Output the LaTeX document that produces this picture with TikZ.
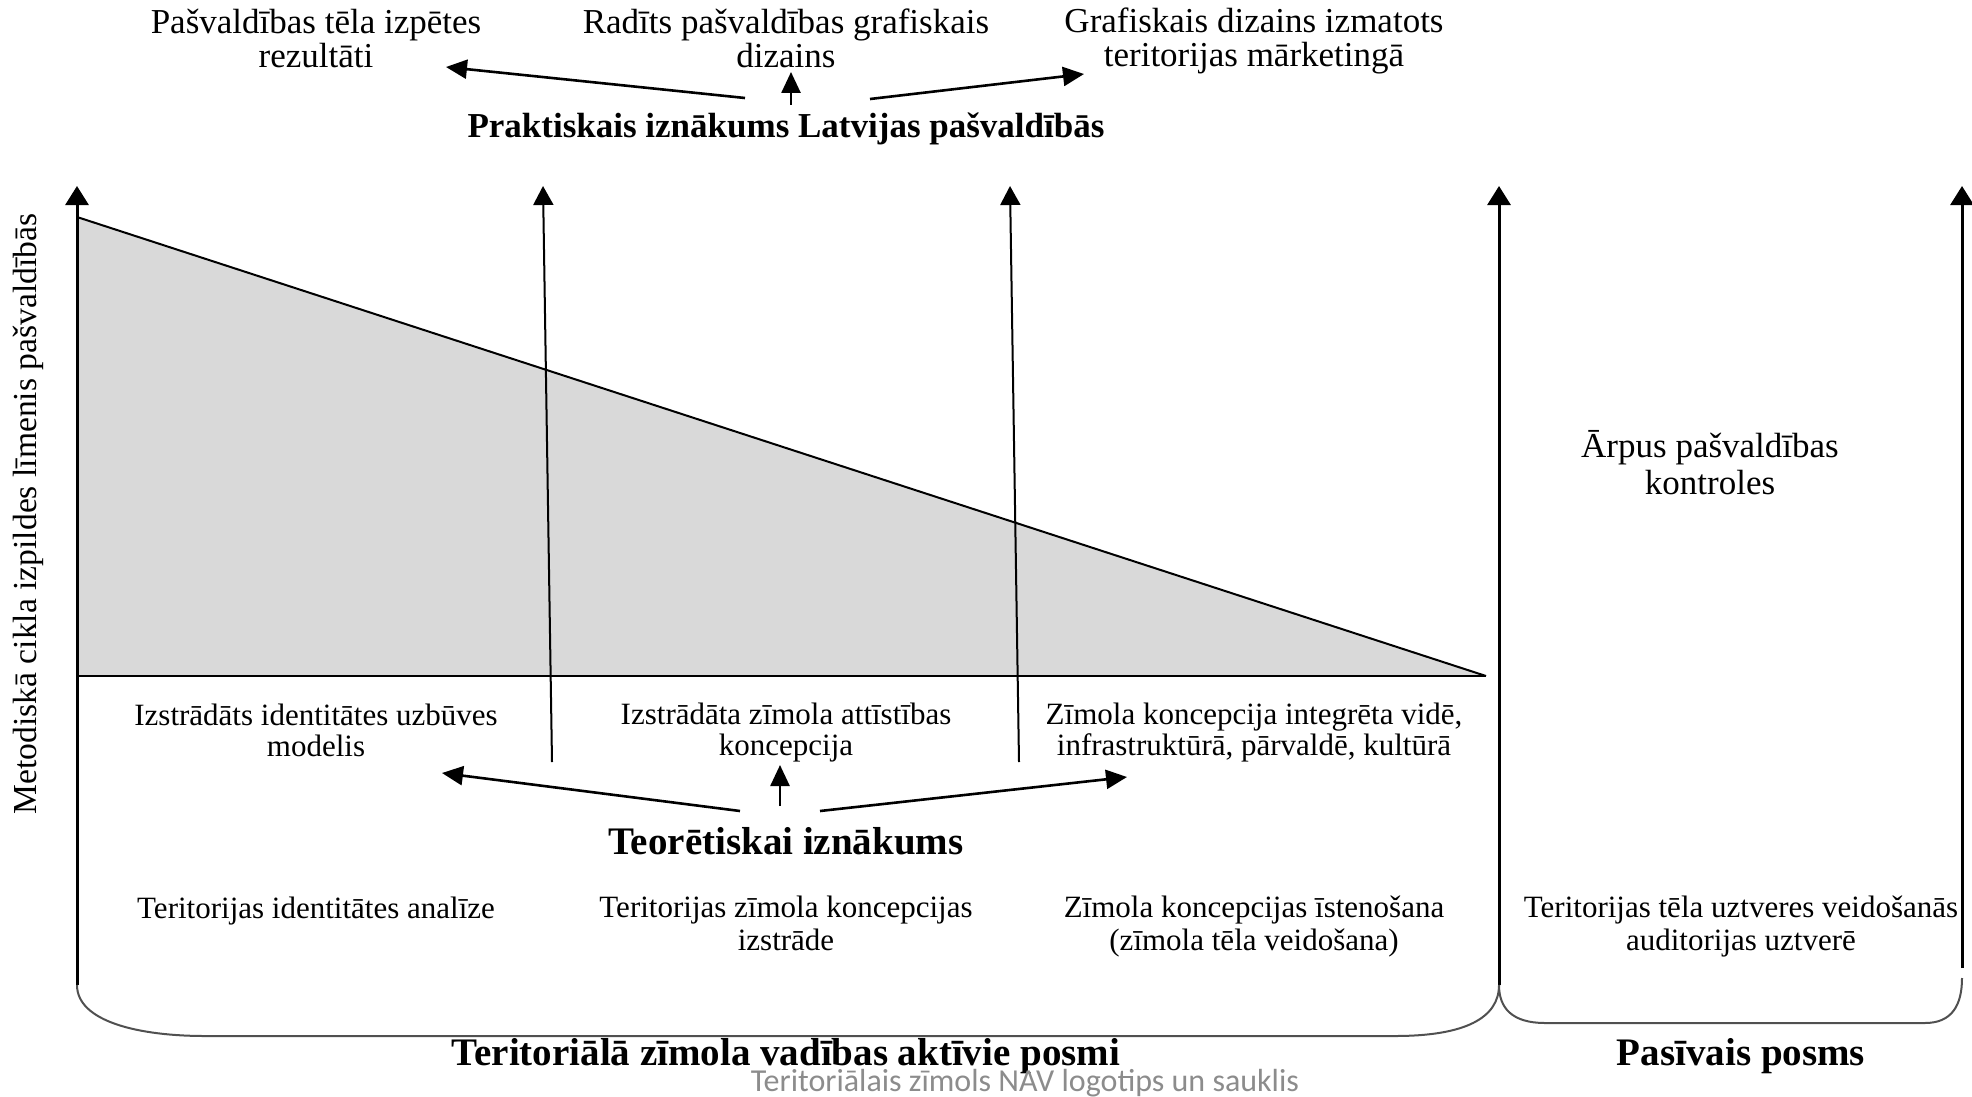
\documentclass[tikz,border=0pt]{standalone}
\usepackage{fontspec}
\setmainfont{Liberation Serif}
\newfontfamily\notefont{Carlito}
\usetikzlibrary{arrows.meta}

\definecolor{trifill}{HTML}{D9D9D9}
\definecolor{bracegray}{HTML}{505050}
\definecolor{notegray}{HTML}{8C8C8C}

\tikzset{
  axisarrow/.style={line width=3pt, -{Triangle[width=23pt,length=19pt]}},
  outarrow/.style={line width=2.6pt, -{Triangle[width=19pt,length=21pt]}},
  risearrow/.style={line width=2pt, -{Triangle[width=20pt,length=19pt]}},
  brace/.style={line width=2pt, draw=bracegray},
  toplbl/.style={align=center, inner sep=0pt, font=\fontsize{35}{34}\selectfont},
  midlbl/.style={align=center, inner sep=0pt, font=\fontsize{31}{31}\selectfont},
  lowlbl/.style={align=center, inner sep=0pt, font=\fontsize{31}{33}\selectfont},
  boldlbl/.style={align=center, inner sep=0pt, font=\fontsize{35}{38}\selectfont\bfseries},
  biglbl/.style={align=center, inner sep=0pt, font=\fontsize{39}{42}\selectfont\bfseries},
}

\begin{document}
\begin{tikzpicture}[x=1pt, y=-1pt]
\useasboundingbox (0,0) rectangle (1972,1097);

% shaded triangle of the executed cycle level
\fill[trifill] (77,217) -- (1486,676) -- (77,676) -- cycle;
\draw[line width=2pt] (77,217) -- (1486,676);
\draw[line width=2.6pt] (77,676) -- (1486,676);

% vertical axes
\coordinate (axL0) at (77,985);   \coordinate (axL1) at (77,186);
\coordinate (axM0) at (1499,985); \coordinate (axM1) at (1499,186);
\coordinate (axR0) at (1962,968); \coordinate (axR1) at (1962,186);
\draw[axisarrow] (axL0) -- (axL1);
\draw[axisarrow] (axM0) -- (axM1);
\draw[axisarrow] (axR0) -- (axR1);

% rising arrows through the triangle
\coordinate (r10) at (552,762);  \coordinate (r11) at (543,186);
\coordinate (r20) at (1019,762); \coordinate (r21) at (1010,186);
\draw[risearrow] (r10) -- (r11);
\draw[risearrow] (r20) -- (r21);

% brackets under the stages
\draw[brace] (axL0) .. controls (77,1022) and (140,1036) .. (205,1036)
  -- (1395,1036) .. controls (1465,1036) and (1499,1018) .. (axM0);
\draw[brace] (axM0) .. controls (1499,1008) and (1512,1023) .. (1545,1023)
  -- (1925,1023) .. controls (1952,1023) and (1962,1005) .. (1962,978);

% practical outcome
\node[toplbl] (t1) at (316,38) {Pašvaldības tēla izpētes\\rezultāti};
\node[toplbl] (t2) at (786,38) {Radīts pašvaldības grafiskais\\dizains};
\node[toplbl] (t3) at (1254,41) {Grafiskais dizains izmatots\\teritorijas mārketingā};
\node[boldlbl] (prak) at (786,129) {Praktiskais iznākums Latvijas pašvaldībās};

\coordinate (pA) at (745,98);  \coordinate (pAe) at (446,67);
\coordinate (pB) at (791,105); \coordinate (pBe) at (791,72);
\coordinate (pC) at (870,99);  \coordinate (pCe) at (1084,74);
\draw[outarrow] (pA) -- (pAe);
\draw[outarrow] (pB) -- (pBe);
\draw[outarrow] (pC) -- (pCe);

% theoretical outcome
\node[midlbl] (m1) at (316,730) {Izstrādāts identitātes uzbūves\\modelis};
\node[midlbl] (m2) at (786,733) {Izstrādāta zīmola attīstības\\koncepcija};
\node[midlbl] (m3) at (1254,733) {Zīmola koncepcija integrēta vidē,\\infrastruktūrā, pārvaldē, kultūrā};
\node[biglbl] (teor) at (786,841) {Teorētiskai iznākums};

\coordinate (qA) at (740,811); \coordinate (qAe) at (442,773);
\coordinate (qB) at (780,806); \coordinate (qBe) at (780,765);
\coordinate (qC) at (820,811); \coordinate (qCe) at (1127,777);
\draw[outarrow] (qA) -- (qAe);
\draw[outarrow] (qB) -- (qBe);
\draw[outarrow] (qC) -- (qCe);

% stages
\node[lowlbl] (s1) at (316,911) {Teritorijas identitātes analīze};
\node[lowlbl] (s2) at (786,923) {Teritorijas zīmola koncepcijas\\izstrāde};
\node[lowlbl] (s3) at (1254,927) {Zīmola koncepcijas īstenošana\\(zīmola tēla veidošana)};
\node[lowlbl] (s4) at (1741,927) {Teritorijas tēla uztveres veidošanās\\auditorijas uztverē};

\node[align=center, inner sep=0pt, font=\fontsize{35}{37}\selectfont] (arp) at (1710,463) {Ārpus pašvaldības\\kontroles};

\node[inner sep=0pt, rotate=90, font=\fontsize{33.6}{36}\selectfont] (ylab) at (28,514) {Metodiskā cikla izpildes līmenis pašvaldībās};

\node[biglbl] (act) at (786,1056) {Teritoriālā zīmola vadības aktīvie posmi};
\node[biglbl] (pas) at (1741,1056) {Pasīvais posms};

\node[inner sep=0pt, text=notegray, font=\notefont\fontsize{32}{34}\selectfont] (note) at (1025,1083) {Teritoriālais zīmols NAV logotips un sauklis};
\end{tikzpicture}
\end{document}
